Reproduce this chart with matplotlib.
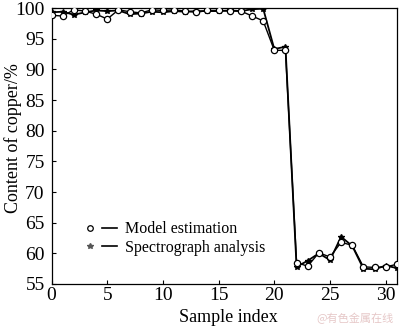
import matplotlib
matplotlib.use("Agg")
import matplotlib.pyplot as plt
from matplotlib.lines import Line2D
from matplotlib.legend_handler import HandlerTuple

sample_index = list(range(32))
model_estimation = [98.8, 98.7, 99.7, 99.5, 99.0, 98.2, 99.7, 99.4, 99.2, 99.7,
                    99.6, 99.7, 99.5, 99.3, 99.6, 99.6, 99.5, 99.5, 98.7, 97.9,
                    93.1, 93.1, 58.5, 57.9, 60.1, 59.4, 61.8, 61.3, 57.8, 57.7,
                    57.8, 58.2]
spectrograph = [99.3, 99.4, 98.9, 99.3, 99.6, 99.5, 99.6, 99.0, 99.1, 99.4,
                99.3, 99.5, 99.4, 99.5, 99.5, 99.5, 99.6, 99.5, 99.8, 99.9,
                93.3, 93.7, 57.8, 58.8, 60.0, 58.9, 62.7, 61.2, 57.5, 57.4,
                58.0, 57.6]
legend_labels = ["Model estimation", "Spectrograph analysis"]

plt.rcParams['font.family'] = ['Liberation Serif', 'DejaVu Serif']

fig = plt.figure(figsize=(4.0, 3.27), dpi=100)
ax = fig.add_axes([0.129, 0.1315, 0.863, 0.844])

ax.plot(sample_index, spectrograph, color='black', lw=1.3, marker='*',
        markersize=4, zorder=2)
ax.plot(sample_index, model_estimation, color='black', lw=1.0, marker='o',
        markersize=4.5, markerfacecolor='white', markeredgecolor='black',
        markeredgewidth=0.9, zorder=3)

ax.set_xlim(0, 31)
ax.set_ylim(55, 100)
ax.set_xticks([0, 5, 10, 15, 20, 25, 30])
ax.set_yticks(range(55, 101, 5))
ax.tick_params(direction='in', length=3, width=0.8, labelsize=14)
ax.tick_params(axis='y', pad=5)
ax.tick_params(axis='x', pad=2)
for s in ax.spines.values():
    s.set_linewidth(0.9)

ax.set_xlabel("Sample index", fontsize=13, va='center')
ax.xaxis.set_label_coords(0.512, -0.123)
ax.set_ylabel("Content of copper/%", fontsize=13, va='center')
ax.yaxis.set_label_coords(-0.113, 0.53)

h1 = (Line2D([], [], ls='none', marker='o', markersize=4, markerfacecolor='white',
             markeredgecolor='black', markeredgewidth=0.9),
      Line2D([], [], color='black', lw=1.2))
h2 = (Line2D([], [], ls='none', marker='*', markersize=4, color='#555555'),
      Line2D([], [], color='black', lw=1.2))
leg = ax.legend([h1, h2], legend_labels,
                handler_map={tuple: HandlerTuple(ndivide=None, pad=0.3)},
                loc='lower left', bbox_to_anchor=(0.07, 0.08), frameon=False,
                fontsize=11.5, handlelength=2.2, handletextpad=0.5,
                labelspacing=0.15, borderaxespad=0)

fig.text(0.985, 0.01, "@有色金属在线", ha='right', va='bottom', fontsize=8,
         color='#e6c8c8', family=['Noto Sans CJK SC', 'DejaVu Sans'])

fig.savefig("out.png", dpi=100)
